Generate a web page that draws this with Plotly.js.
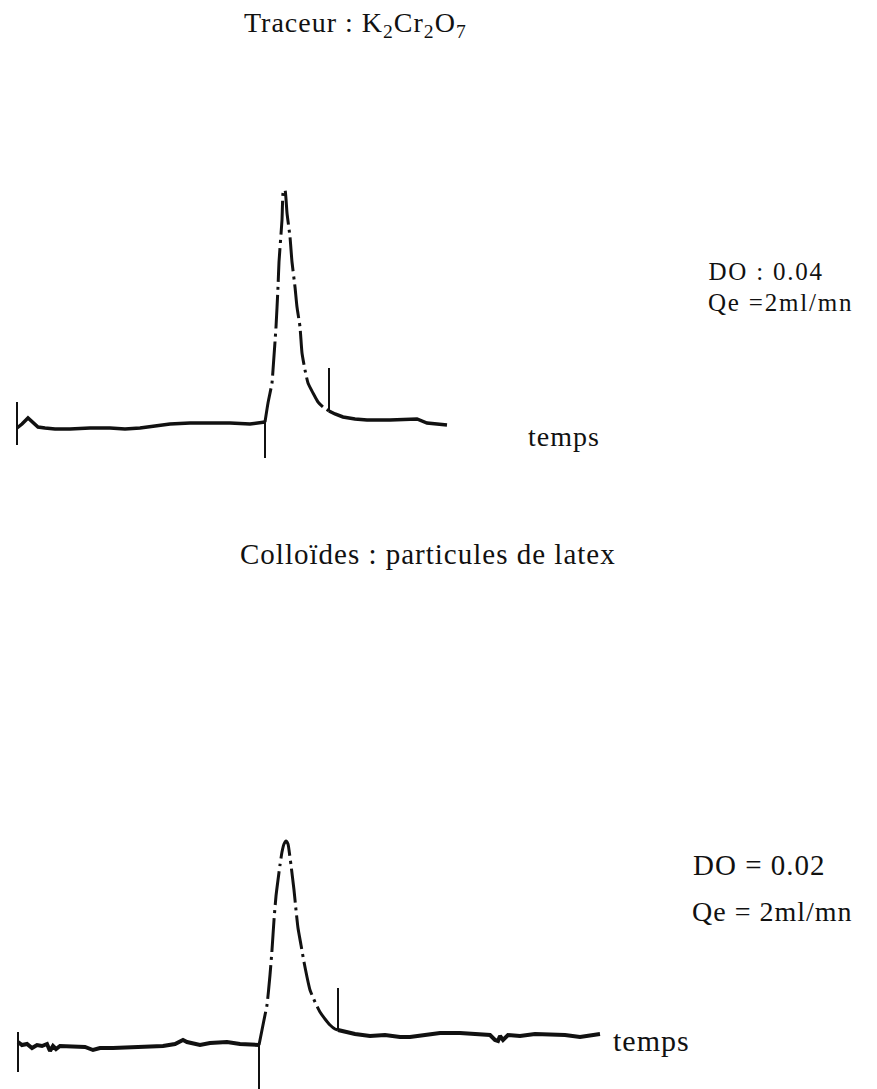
<!DOCTYPE html>
<html>
<head>
<meta charset="utf-8">
<script src="https://cdn.plot.ly/plotly-3.0.1.min.js"></script>
<style>
  html, body { margin: 0; padding: 0; background: #ffffff; }
  #chart { width: 877px; height: 1089px; }
  .annotation-text { letter-spacing: 1px; }
  .annotation[data-index="1"] .annotation-text,
  .annotation[data-index="2"] .annotation-text { letter-spacing: 1.8px; }
</style>
</head>
<body>
<div id="chart"></div>
<script>
// ---- Data (time in arbitrary units, signal in arbitrary recorder units) ----
// Panel 1: Traceur K2Cr2O7
const tracerBaseT = [0, 1, 2.2, 3.2, 4.2, 5.6, 7.6, 10.6, 14.6, 18.6, 21.6, 24.6, 28.6, 30.6, 34.6, 38.6, 42.6, 46.6, 49.6];
const tracerBaseV = [-0.5, 1.5, 4.5, 2, 0, -0.5, -1, -1, -0.5, -0.5, -1, -0.5, 1, 1.5, 2, 2, 2, 1.5, 2.5];
const tracerPeakT = [49.6, 50.2, 51, 51.2, 51.8, 52.2, 52.4, 53, 53.2, 53.4, 53.6, 54, 54.6, 55, 55.6, 56, 56.6, 57, 57.6, 58.2, 59.2, 60.2, 61.2, 62.4];
const tracerPeakV = [2.5, 12, 22, 28.5, 50, 70, 82.5, 103.5, 117, 118.5, 118.5, 107, 95, 82.5, 70, 60, 50, 37, 28.5, 22, 17, 12.5, 10, 8];
const tracerTailT = [62.4, 63.6, 65.2, 67.6, 70, 74.6, 80, 82, 84, 86];
const tracerTailV = [8, 6.5, 5, 4, 3.5, 3.5, 4, 2, 1.5, 1];
const tracerMarkT = [0, 49.6, 62.4];
const tracerMarkLow = [-9, -15.5, 8];
const tracerMarkHigh = [12.5, 3.5, 29.5];

// Panel 2: Colloïdes (particules de latex)
const colloidBaseT = [0.2, 1, 2, 3, 4, 5, 6, 6.6, 7.2, 7.8, 8.6, 9.6, 11.6, 13.6, 15.2, 16.6, 19.2, 23.2, 26.6, 29.2, 31.6, 33.2, 34, 36.6, 38.6, 42, 44.6, 46.6, 48.4];
const colloidBaseV = [1.5, 0, 0.5, -1.5, 0, -0.5, 0.5, -3, -0.5, -2, -0.5, -0.5, -0.5, -1, -2.5, -1.5, -1.5, -1, -0.5, -0.5, 0.5, 2.5, 1.5, 0, 1, 1.5, 0.5, 0, 0];
const colloidPeakT = [48.4, 49, 49.6, 50, 50.6, 51, 51.4, 51.8, 52.2, 52.6, 53, 53.4, 53.8, 54.2, 54.4, 54.8, 55.4, 55.8, 56.2, 56.8, 57.4, 58, 58.6, 59.6, 60.6, 61.6, 62.6, 63.6, 64.2];
const colloidPeakV = [0, 7.5, 15, 20, 35, 47.5, 62.5, 74.5, 82.5, 90, 96.5, 100.5, 102, 100.5, 97.5, 90, 77.5, 67.5, 58.5, 50, 41.5, 34, 27.5, 21.5, 16.5, 13, 10, 8, 7.5];
const colloidTailT = [64.2, 65.6, 67.6, 70.6, 73.6, 76.6, 78.6, 81.6, 84.6, 88.6, 91.6, 94.6, 95.6, 96.2, 96.6, 97.2, 98.2, 100.6, 103.6, 106.6, 109.6, 112.6, 114.6, 116.6];
const colloidTailV = [7.5, 6.5, 5.5, 4.5, 5, 4, 4, 5, 6, 6, 5.5, 5, 2.5, 2, 4.5, 2.5, 5, 4.5, 5.5, 5.5, 5, 4, 5, 5.5];
const colloidMarkT = [0.2, 48.4, 64.2];
const colloidMarkLow = [-13.5, -22, 7.5];
const colloidMarkHigh = [6.5, 0, 28.5];

// Text
const titleTop = 'Traceur : K<sub>2</sub>Cr<sub>2</sub>O<sub>7</sub>';
const titleBottom = 'Colloïdes : particules de latex';
const infoTop = ['DO : 0.04', 'Qe =2ml/mn'];
const infoBottom = ['DO = 0.02', 'Qe = 2ml/mn'];
const axisWord = 'temps';

// ---- Styling ----
const INK = '#111111';
const FONT = 'Liberation Serif, Times New Roman, serif';
const DASHDOT = '34px,5px,3px,5px';

function solid(x, y, yaxis, w) {
  return { x: x, y: y, yaxis: yaxis, type: 'scatter', mode: 'lines',
           line: { color: INK, width: w, shape: 'linear' }, hoverinfo: 'skip', showlegend: false };
}
function dashed(x, y, yaxis) {
  return { x: x, y: y, yaxis: yaxis, type: 'scatter', mode: 'lines',
           line: { color: INK, width: 3, dash: DASHDOT, shape: 'spline', smoothing: 0.5 },
           hoverinfo: 'skip', showlegend: false };
}
function marks(ts, lows, highs, yaxis) {
  return ts.map((t, i) => ({ x: [t, t], y: [lows[i], highs[i]], yaxis: yaxis, type: 'scatter',
    mode: 'lines', line: { color: INK, width: 2 }, hoverinfo: 'skip', showlegend: false }));
}

const traces = [
  solid(tracerBaseT, tracerBaseV, 'y', 3.5),
  dashed(tracerPeakT, tracerPeakV, 'y'),
  solid(tracerTailT, tracerTailV, 'y', 3.5),
  ...marks(tracerMarkT, tracerMarkLow, tracerMarkHigh, 'y'),
  solid(colloidBaseT, colloidBaseV, 'y2', 4),
  dashed(colloidPeakT, colloidPeakV, 'y2'),
  solid(colloidTailT, colloidTailV, 'y2', 4),
  ...marks(colloidMarkT, colloidMarkLow, colloidMarkHigh, 'y2')
];

const W = 877, H = 1089;
function px(x) { return x / W; }
function py(y) { return 1 - y / H; }
function note(text, x, y, size, xanchor) {
  return { text: text, xref: 'paper', yref: 'paper', x: px(x), y: py(y),
           xanchor: xanchor, yanchor: 'middle', showarrow: false,
           font: { family: FONT, size: size, color: INK } };
}

const layout = {
  width: W, height: H,
  margin: { l: 0, r: 0, t: 0, b: 0 },
  paper_bgcolor: '#ffffff', plot_bgcolor: '#ffffff',
  showlegend: false,
  xaxis: { range: [-3.4, 172], visible: false, fixedrange: true },
  yaxis: { range: [-331, 213.5], visible: false, fixedrange: true, domain: [0, 1] },
  yaxis2: { range: [-22, 522.5], visible: false, fixedrange: true, overlaying: 'y' },
  annotations: [
    note(titleTop, 355, 24, 28, 'center'),
    note(infoTop[0], 710, 271, 25, 'left'),
    note(infoTop[1], 710, 302, 25, 'left'),
    note(axisWord, 526, 436, 28, 'left'),
    note(titleBottom, 428, 554, 29, 'center'),
    note(infoBottom[0], 691, 865, 29, 'left'),
    note(infoBottom[1], 690, 911, 28, 'left'),
    note(axisWord, 611, 1040, 30, 'left')
  ]
};

Plotly.newPlot('chart', traces, layout, { staticPlot: true, displayModeBar: false });
</script>
</body>
</html>
